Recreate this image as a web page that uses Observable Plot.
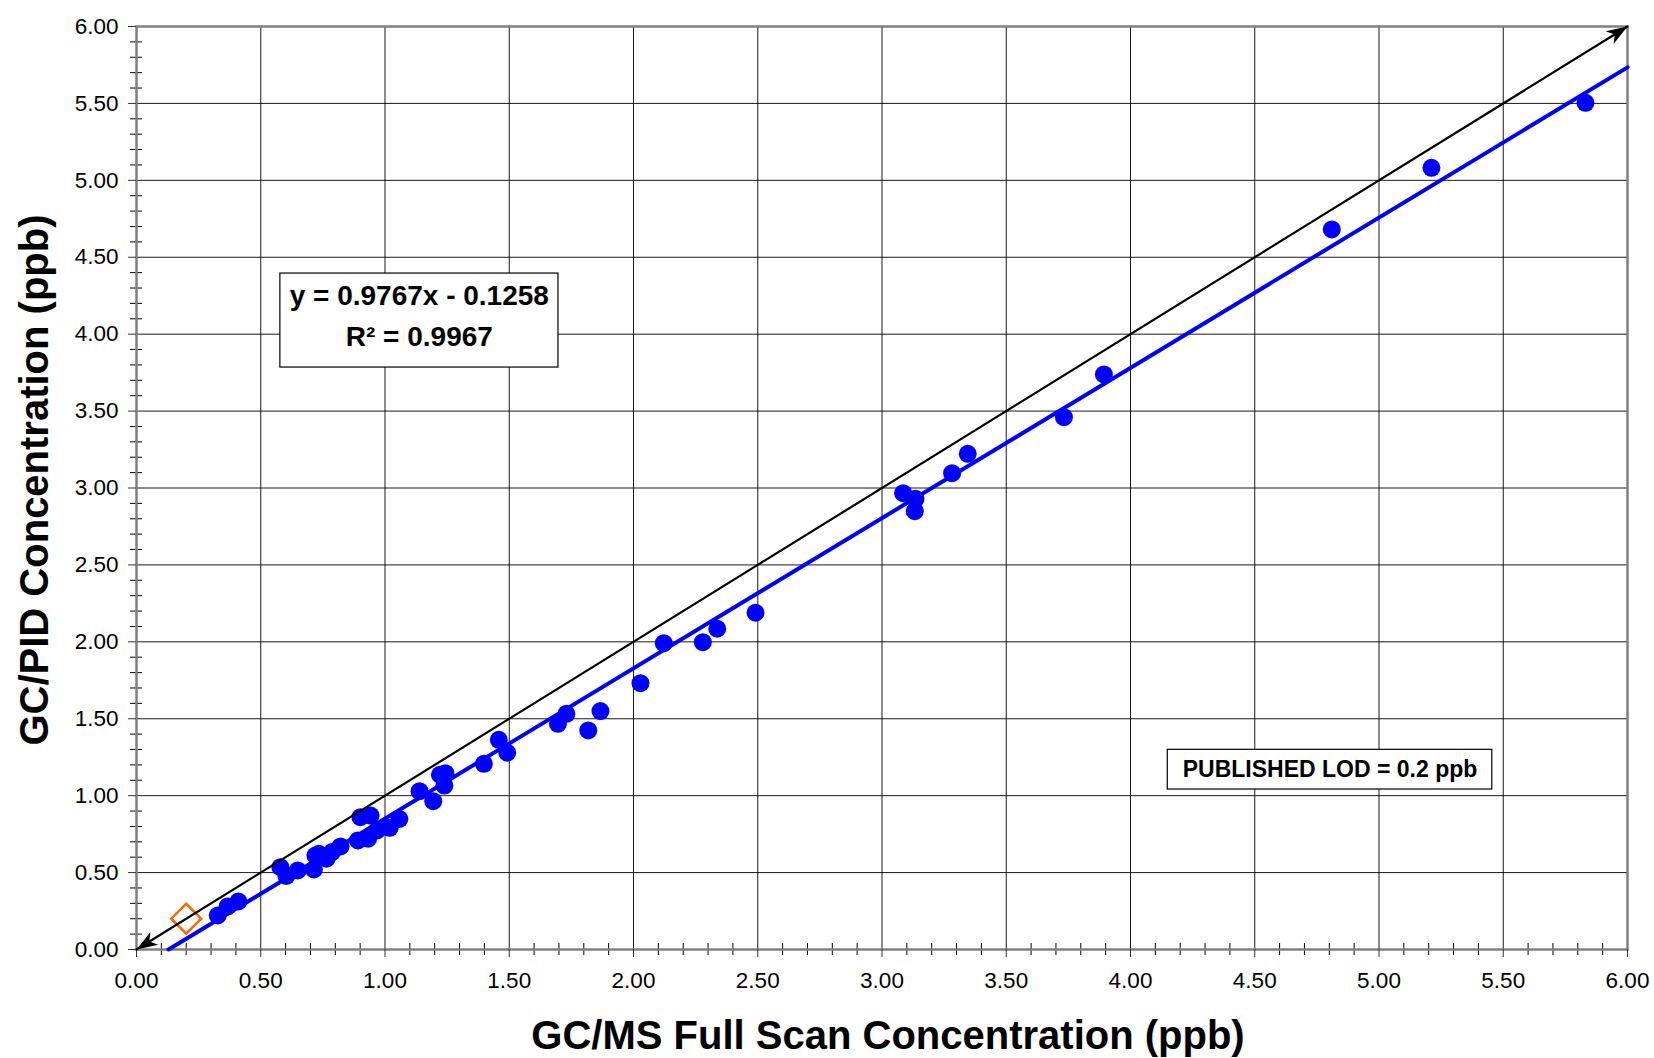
<!DOCTYPE html>
<html>
<head>
<meta charset="utf-8">
<script src="https://cdn.jsdelivr.net/npm/d3@7"></script>
<script src="https://cdn.jsdelivr.net/npm/@observablehq/plot@0.6"></script>
<style>
  html, body { margin: 0; padding: 0; background: #fff; }
  #chart svg { display: block; }
</style>
</head>
<body>
<div id="chart"></div>
<script>
// ---- data ----
const gcmsFullScan = [0.327, 0.367, 0.410, 0.579, 0.603, 0.649, 0.714, 0.720, 0.734, 0.765,
  0.787, 0.821, 0.891, 0.901, 0.942, 0.932, 0.968, 1.019, 1.058, 1.139,
  1.194, 1.221, 1.243, 1.239, 1.398, 1.458, 1.492, 1.696, 1.730, 1.818,
  1.867, 2.028, 2.122, 2.279, 2.337, 2.491, 3.085, 3.135, 3.132, 3.282,
  3.345, 3.732, 3.893, 4.810, 5.211, 5.831];
const gcPid = [0.221, 0.280, 0.312, 0.535, 0.478, 0.514, 0.520, 0.611, 0.622, 0.590,
  0.633, 0.670, 0.709, 0.860, 0.871, 0.720, 0.774, 0.791, 0.849, 1.029,
  0.964, 1.136, 1.146, 1.066, 1.207, 1.363, 1.279, 1.467, 1.532, 1.424,
  1.550, 1.731, 1.991, 1.998, 2.085, 2.189, 2.966, 2.930, 2.849, 3.096,
  3.222, 3.460, 3.738, 4.681, 5.081, 5.504];
const lodPoint = [{x: 0.2, y: 0.2}];
const slope = 0.9767, intercept = -0.1258;
const trendX = [0.1288, 6.0];
const identityLine = [{x: 0, y: 0}, {x: 6, y: 6}];
const xTicks = [0, 0.5, 1, 1.5, 2, 2.5, 3, 3.5, 4, 4.5, 5, 5.5, 6];
const yTicks = [0, 0.5, 1, 1.5, 2, 2.5, 3, 3.5, 4, 4.5, 5, 5.5, 6];
const minorTicks = d3.range(0, 61).map(i => i / 10).filter(v => Math.round(v * 10) % 5 !== 0);
const xTitle = "GC/MS Full Scan Concentration (ppb)";
const yTitle = "GC/PID Concentration (ppb)";
const eqLines = ["y = 0.9767x - 0.1258", "R\u00B2 = 0.9967"];
const lodLabel = "PUBLISHED LOD = 0.2 ppb";

// ---- annotation placement (data units) ----
const eqBox = [{x1: 0.579, x2: 1.698, y1: 3.783, y2: 4.394}];
const eqText = [{x: 1.138, y: 4.246, t: eqLines[0]}, {x: 1.138, y: 3.980, t: eqLines[1]}];
const lodBox = [{x1: 4.150, x2: 5.456, y1: 1.040, y2: 1.298}];
const lodText = [{x: 4.803, y: 1.170, t: lodLabel}];

// ---- layout ----
const W = 1654, H = 1058;
const mL = 136, mR = 27, mT = 26, mB = 109;
const fw = W - mL - mR, fh = H - mT - mB;

const points = gcmsFullScan.map((x, i) => ({x, y: gcPid[i]}));
const trend = trendX.map(x => ({x, y: slope * x + intercept}));

const theta = Math.atan2(-fh, fw);
function arrowHead(dir) {
  return {
    draw(ctx) {
      const L = 21, w = 7.5, notch = 6;
      const c = Math.cos(dir), s = Math.sin(dir);
      const pt = (u, v) => [u * c - v * s, u * s + v * c];
      ctx.moveTo(...pt(0, 0));
      ctx.lineTo(...pt(-L, w));
      ctx.lineTo(...pt(-L + notch, 0));
      ctx.lineTo(...pt(-L, -w));
      ctx.closePath();
    }
  };
}

const chart = Plot.plot({
  width: W, height: H,
  marginLeft: mL, marginRight: mR, marginTop: mT, marginBottom: mB,
  x: {domain: [0, 6]},
  y: {domain: [0, 6]},
  style: {fontFamily: "'Liberation Sans', Arial, sans-serif", background: "#fff", color: "#000", overflow: "visible"},
  marks: [
    Plot.gridX(xTicks, {stroke: "#000", strokeOpacity: 0.9, strokeWidth: 1}),
    Plot.gridY(yTicks, {stroke: "#000", strokeOpacity: 0.9, strokeWidth: 1}),
    Plot.ruleX(minorTicks, {x: d => d, insetTop: fh - 6, insetBottom: -6, stroke: "#000", strokeWidth: 1}),
    Plot.ruleY(minorTicks, {y: d => d, insetLeft: -6, insetRight: fw - 6, stroke: "#000", strokeWidth: 1}),
    Plot.frame({stroke: "#808080", strokeWidth: 2.5}),
    Plot.axisX(xTicks, {tickSize: 8, tickPadding: 15, fontSize: 22.5, stroke: "#333", tickFormat: d => d.toFixed(2), label: null}),
    Plot.axisY(yTicks, {tickSize: 8, tickPadding: 10, fontSize: 22.5, stroke: "#333", tickFormat: d => d.toFixed(2), label: null}),
    Plot.line(trend, {x: "x", y: "y", stroke: "#0000ff", strokeWidth: 4}),
    Plot.dot(points, {x: "x", y: "y", r: 9, fill: "#0000ff", stroke: "none"}),
    Plot.dot(lodPoint, {x: "x", y: "y", r: 13.5, symbol: "diamond2", stroke: "#ff6600", strokeWidth: 2.5, fill: "none"}),
    Plot.line(identityLine, {x: "x", y: "y", stroke: "#000", strokeWidth: 2.2}),
    Plot.dot([identityLine[1]], {x: "x", y: "y", symbol: arrowHead(theta), fill: "#000", stroke: "none"}),
    Plot.dot([identityLine[0]], {x: "x", y: "y", symbol: arrowHead(theta + Math.PI), fill: "#000", stroke: "none"}),
    Plot.rect(eqBox, {x1: "x1", x2: "x2", y1: "y1", y2: "y2", fill: "#fff", stroke: "#000", strokeWidth: 1.2}),
    Plot.text(eqText, {x: "x", y: "y", text: "t", fontSize: 28, fontWeight: "bold", fill: "#000", lineAnchor: "middle"}),
    Plot.rect(lodBox, {x1: "x1", x2: "x2", y1: "y1", y2: "y2", fill: "#fff", stroke: "#000", strokeWidth: 1.2}),
    Plot.text(lodText, {x: "x", y: "y", text: "t", fontSize: 23, fontWeight: "bold", fill: "#000", lineAnchor: "middle"}),
    Plot.text([xTitle], {text: d => d, frameAnchor: "bottom", textAnchor: "middle", dx: 6, dy: 99, lineAnchor: "bottom", fontSize: 40, fontWeight: "bold", fill: "#000"}),
    Plot.text([yTitle], {text: d => d, frameAnchor: "left", textAnchor: "middle", rotate: -90, dx: -117, dy: -8, lineAnchor: "top", fontSize: 40, fontWeight: "bold", fill: "#000"})
  ]
});
document.getElementById("chart").appendChild(chart);
</script>
</body>
</html>
